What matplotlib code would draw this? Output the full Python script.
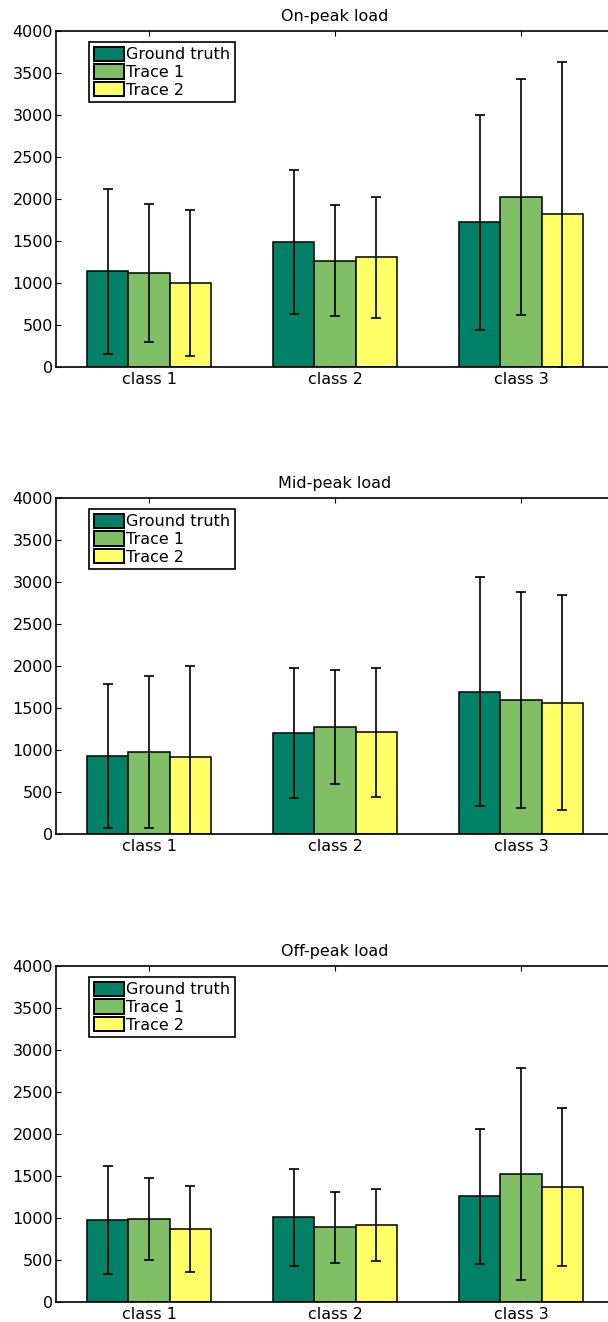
import numpy as np
import matplotlib
matplotlib.use('Agg')
import matplotlib.pyplot as plt

# Mean load per class and its standard deviation
classes = ['class 1', 'class 2', 'class 3']
series = ['Ground truth', 'Trace 1', 'Trace 2']
titles = ['On-peak load', 'Mid-peak load', 'Off-peak load']

on_mean = [[1137, 1485, 1723], [1117, 1267, 2020], [998, 1307, 1818]]
on_std = [[977, 860, 1279], [824, 666, 1402], [871, 721, 1814]]
mid_mean = [[929, 1203, 1696], [977, 1279, 1596], [921, 1211, 1565]]
mid_std = [[858, 775, 1366], [905, 679, 1283], [1084, 767, 1275]]
off_mean = [[979, 1007, 1261], [987, 888, 1526], [868, 916, 1368]]
off_std = [[642, 579, 804], [488, 420, 1265], [516, 432, 943]]

# summer colormap, one colour per series
colors = ['#008066', '#80bf66', '#ffff66']

plt.rcParams['font.family'] = ['DejaVu Sans']
plt.rcParams['font.size'] = 11.5

fig = plt.figure(figsize=(6.08, 13.22), dpi=100)

left, width, height = 0.0921, 0.9178, 0.2542
bottoms = [0.7224, 0.3691, 0.0151]
panels = [(on_mean, on_std), (mid_mean, mid_std), (off_mean, off_std)]

x = np.arange(1, len(classes) + 1)
bar_w = 0.222

for title, bottom, (means, stds) in zip(titles, bottoms, panels):
    ax = fig.add_axes([left, bottom, width, height])
    for i, name in enumerate(series):
        pos = x + (i - 1) * bar_w
        ax.bar(pos, means[i], width=bar_w, color=colors[i], edgecolor='black',
               linewidth=1.1, label=name, zorder=2)
        ax.errorbar(pos, means[i], yerr=stds[i], fmt='none', ecolor='black',
                    elinewidth=1.2, capsize=3.5, capthick=1.2, zorder=3)

    ax.set_xlim(0.5, 3.5)
    ax.set_ylim(0, 4000)
    ax.set_yticks(np.arange(0, 4001, 500))
    ax.set_xticks(x)
    ax.set_xticklabels(classes)
    ax.tick_params(axis='both', direction='in', length=3.5, width=0.8)
    ax.tick_params(axis='x', top=True, pad=3.4)
    ax.tick_params(axis='y', pad=2)
    for sp in ax.spines.values():
        sp.set_linewidth(1.2)
    ax.set_title(title, pad=7, fontsize=11.5)

    leg = ax.legend(loc='upper left', bbox_to_anchor=(0.059, 0.967), borderaxespad=0,
                    fancybox=False, framealpha=1, edgecolor='black',
                    handlelength=1.9, handleheight=1.0, handletextpad=0.15,
                    labelspacing=0.12, borderpad=0.3, fontsize=11.5)
    leg.get_frame().set_linewidth(1.2)
    for h in leg.legend_handles:
        h.set_linewidth(1.4)

fig.savefig('out.png', dpi=100)
